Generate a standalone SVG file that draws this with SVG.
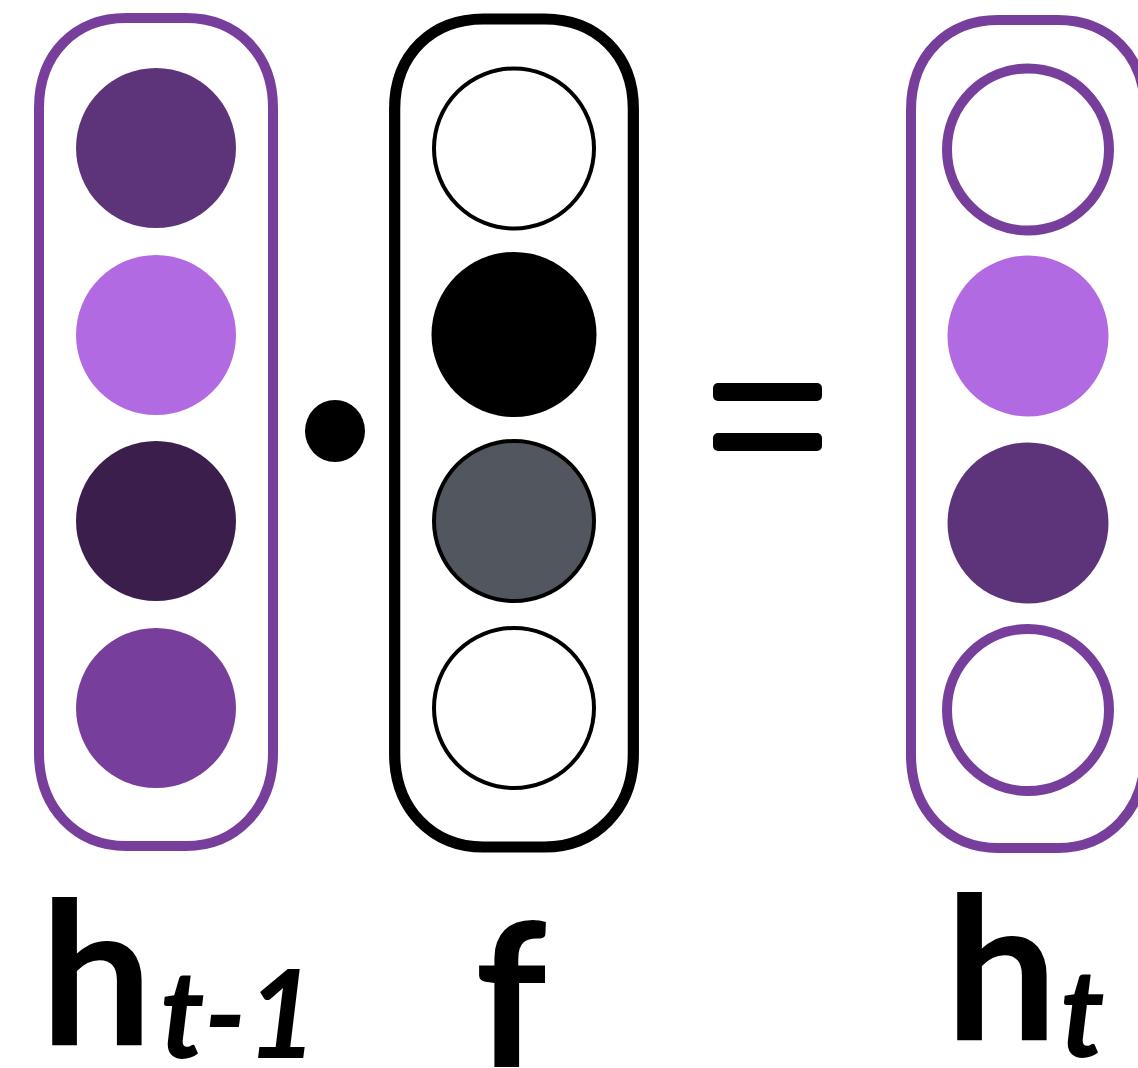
<svg xmlns="http://www.w3.org/2000/svg" width="1138" height="1068" viewBox="0 0 1138 1068">
<defs>
<style>
.cap-p{fill:none;stroke:#773F9B;stroke-width:10}
.cap-k{fill:none;stroke:#000;stroke-width:11}
.ring-p{fill:#fff;stroke:#773F9B;stroke-width:10}
.ring-k{stroke:#000;stroke-width:4}
.lbl{font-family:Lato,"Liberation Sans",sans-serif;font-weight:bold;fill:#000}
.sub{font-family:Lato,"Liberation Sans",sans-serif;font-style:italic;font-weight:bold;fill:#000}
</style>
<path id="capsule" d="M -117,90 C -117,35 -80,0 -30,0 L 30,0 C 80,0 117,35 117,90 L 117,735 C 117,790 80,828 30,828 L -30,828 C -80,828 -117,790 -117,735 Z"/>
</defs>
<rect width="1138" height="1068" fill="#fff"/>
<g id="h_prev">
<use href="#capsule" class="cap-p" transform="translate(156,18)"/>
<circle cx="156" cy="148" r="80" fill="#5D3479"/>
<circle cx="156" cy="335" r="80" fill="#B26AE2"/>
<circle cx="156" cy="521" r="80" fill="#3C1E4C"/>
<circle cx="156" cy="708" r="80" fill="#773F9B"/>
</g>
<g id="f_gate">
<use href="#capsule" class="cap-k" transform="translate(514,19) scale(1.02,1)"/>
<circle cx="514" cy="148.5" r="80" fill="#fff" class="ring-k"/>
<circle cx="514" cy="334.5" r="82.5" fill="#000"/>
<circle cx="514" cy="521" r="80" fill="#52575F" class="ring-k"/>
<circle cx="514" cy="708" r="80" fill="#fff" class="ring-k"/>
</g>
<g id="h_t">
<use href="#capsule" class="cap-p" transform="translate(1028,20)"/>
<circle cx="1028" cy="149.5" r="81" class="ring-p"/>
<circle cx="1028" cy="336" r="80.5" fill="#B26AE2"/>
<circle cx="1028" cy="523" r="80.5" fill="#5D3479"/>
<circle cx="1028" cy="710" r="81" class="ring-p"/>
</g>
<g id="operators">
<ellipse cx="335" cy="431" rx="30" ry="31" fill="#000"/>
<rect x="713" y="383" width="109" height="18" rx="5" fill="#000"/>
<rect x="713" y="433" width="109" height="18" rx="5" fill="#000"/>
</g>
<g id="connectors"></g>
<g id="labels">
<text class="lbl" x="40" y="1045" font-size="200">h</text>
<text class="sub" x="160" y="1058" font-size="122">t-1</text>
<text class="lbl" x="475" y="1067" font-size="200">f</text>
<text class="lbl" x="945" y="1040" font-size="200">h</text>
<text class="sub" x="1060" y="1057" font-size="122">t</text>
</g>
</svg>
